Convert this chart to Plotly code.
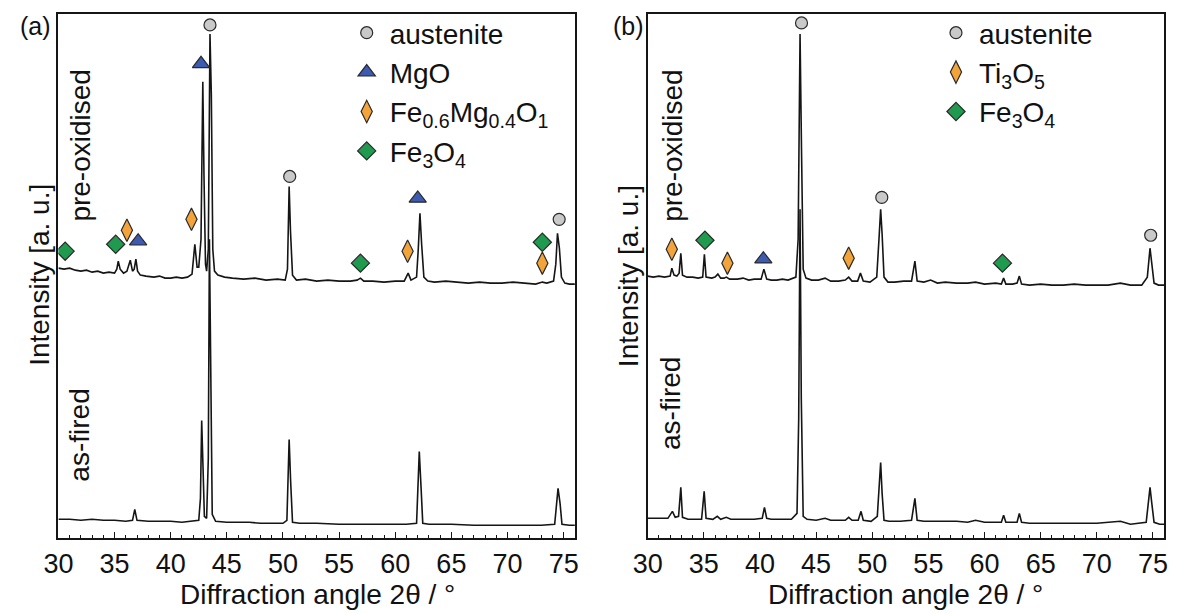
import plotly.graph_objects as go

# ---------------- data (2theta in degrees, intensity in a.u.) ----------------
# Panel (a)
a_pre_x = [30.0, 30.5, 31.0, 31.5, 32.0, 32.5, 33.0, 33.5, 34.0, 34.5, 35.0, 35.2, 35.33, 35.5, 35.8,
           36.1, 36.4, 36.6, 36.75, 36.9, 37.05, 37.3, 37.8, 38.5, 39.0, 39.5, 40.0, 40.5, 41.0, 41.5,
           41.9, 42.15, 42.35, 42.5, 42.7, 42.86, 42.97, 43.1, 43.2, 43.35, 43.5, 43.62, 43.75, 43.9,
           44.2, 44.8, 45.5, 46.5, 47.5, 48.5, 49.5, 50.2, 50.4, 50.55, 50.67, 50.85, 51.2, 52.0, 53.0,
           54.0, 55.0, 56.0, 56.6, 56.9, 57.2, 58.0, 59.0, 60.0, 60.8, 61.15, 61.4, 61.9, 62.05, 62.2,
           62.35, 62.55, 62.9, 63.5, 64.5, 65.5, 66.5, 67.5, 68.5, 69.5, 70.5, 71.5, 72.5, 73.1, 73.5,
           74.1, 74.3, 74.45, 74.62, 74.8, 75.1, 75.5, 76.0]
a_pre_y = [271, 270, 271, 269, 268, 269, 267, 268, 266, 267, 266, 270, 278, 270, 266,
           268, 279, 268, 270, 280, 268, 264, 263, 262, 263, 261, 261, 262, 261, 262,
           265, 295, 272, 272, 300, 458, 361, 275, 268, 290, 506, 445, 290, 268,
           264, 262, 261, 260, 261, 259, 260, 259, 270, 353, 308, 264, 259, 260, 258,
           259, 258, 258, 259, 261, 258, 258, 257, 258, 258, 266, 259, 262, 290, 326,
           295, 262, 258, 257, 258, 257, 256, 257, 256, 256, 257, 256, 255, 257, 256,
           258, 275, 306, 291, 262, 256, 255, 255]

a_fired_x = [30.0, 31.0, 32.0, 33.0, 34.0, 35.0, 36.0, 36.6, 36.8, 37.0, 38.0, 39.0, 40.0, 41.0, 42.0,
             42.5, 42.65, 42.76, 42.88, 43.0, 43.2, 43.35, 43.45, 43.57, 43.7, 44.0, 45.0, 46.0, 47.0,
             48.0, 49.0, 50.0, 50.35, 50.55, 50.68, 50.85, 51.5, 53.0, 55.0, 57.0, 59.0, 61.0, 61.9,
             62.14, 62.3, 62.45, 63.0, 65.0, 67.0, 69.0, 71.0, 73.0, 74.2, 74.5, 74.68, 74.85, 75.5, 76.0]
a_fired_y = [19, 19, 18, 19, 18, 18, 17, 18, 29, 18, 17, 17, 17, 16, 17,
             18, 40, 118, 71, 22, 20, 80, 300, 145, 24, 17, 16, 16, 16,
             15, 15, 15, 18, 99, 58, 16, 15, 15, 14, 14, 14, 14, 15,
             87, 51, 15, 14, 14, 13, 13, 13, 13, 14, 50, 35, 14, 13, 13]

# Panel (b)
b_pre_x = [30.0, 30.5, 31.0, 31.5, 32.0, 32.15, 32.35, 32.6, 32.8, 32.95, 33.1, 33.5, 34.0, 34.5, 34.9,
           35.05, 35.2, 35.7, 36.0, 36.25, 36.5, 36.8, 37.0, 37.3, 38.0, 38.5, 39.0, 39.5, 40.1, 40.35,
           40.6, 41.0, 41.5, 42.0, 42.5, 43.2, 43.4, 43.57, 43.7, 43.85, 44.1, 44.6, 45.2, 45.8, 46.3,
           47.0, 47.6, 47.9, 48.2, 48.7, 48.95, 49.2, 49.8, 50.4, 50.6, 50.75, 50.88, 51.05, 51.4, 52.0,
           52.8, 53.5, 53.8, 54.0, 54.6, 55.2, 55.8, 56.5, 57.5, 58.5, 59.2, 60.0, 61.0, 61.5, 61.7,
           61.9, 62.5, 62.9, 63.1, 63.3, 64.0, 65.0, 66.0, 67.0, 68.0, 69.0, 70.0, 71.0, 72.1, 73.0,
           74.0, 74.5, 74.74, 74.9, 75.1, 75.5, 76.0]
b_pre_y = [263, 262, 263, 262, 263, 271, 264, 263, 266, 286, 264, 262, 262, 261, 262,
           285, 262, 261, 262, 265, 261, 261, 262, 260, 260, 261, 259, 260, 260, 270,
           260, 259, 259, 260, 259, 262, 300, 506, 390, 270, 261, 259, 259, 261, 258,
           258, 259, 262, 258, 258, 266, 258, 257, 262, 300, 330, 305, 262, 257, 257,
           258, 258, 278, 258, 257, 259, 256, 257, 256, 256, 257, 255, 256, 255, 261,
           255, 255, 256, 263, 255, 254, 255, 254, 254, 255, 254, 254, 254, 256, 254,
           254, 262, 291, 276, 256, 254, 254]

b_fired_x = [30.0, 31.0, 31.8, 32.2, 32.45, 32.75, 32.95, 33.1, 33.6, 34.2, 34.8, 35.03, 35.2, 35.8,
             36.2, 36.5, 37.0, 37.4, 38.0, 38.8, 39.5, 40.2, 40.4, 40.6, 41.0, 42.0, 42.8, 43.3, 43.45,
             43.57, 43.68, 43.85, 44.2, 45.0, 45.8, 46.3, 47.0, 47.6, 47.9, 48.2, 48.75, 49.0, 49.2,
             49.9, 50.45, 50.75, 50.88, 51.05, 51.5, 52.5, 53.5, 53.8, 54.0, 54.6, 55.5, 56.5, 57.5,
             58.5, 59.2, 60.0, 61.0, 61.5, 61.7, 61.9, 62.9, 63.1, 63.3, 64.0, 66.0, 68.0, 70.0, 72.1,
             73.0, 74.4, 74.74, 74.9, 75.1, 75.6, 76.0]
b_fired_y = [20, 20, 20, 27, 21, 22, 51, 21, 19, 19, 19, 47, 20, 19,
             22, 19, 21, 19, 19, 19, 19, 20, 31, 20, 19, 19, 19, 25, 120,
             330, 141, 22, 19, 18, 20, 18, 18, 18, 21, 18, 18, 27, 18,
             17, 22, 76, 45, 18, 17, 17, 18, 40, 18, 17, 17, 17, 17,
             16, 18, 16, 16, 16, 23, 16, 16, 25, 16, 15, 15, 15, 15, 17,
             14, 16, 51, 35, 16, 14, 14]

# Phase markers (position, intensity)
a_aust_x, a_aust_y = [43.5, 50.6, 74.6], [515, 363, 320]
a_mgo_x, a_mgo_y = [37.1, 42.7, 62.0], [298, 476, 341]
a_femg_x, a_femg_y = [36.1, 41.85, 61.1, 73.1], [309, 320, 288, 276]
a_fe3o4_x, a_fe3o4_y = [30.6, 35.1, 56.9, 73.1], [288, 295, 276, 297]

b_aust_x, b_aust_y = [43.7, 50.85, 74.8], [517, 342, 304]
b_ti_x, b_ti_y = [32.15, 37.1, 47.9], [290, 276, 281]
b_fe3o4_x, b_fe3o4_y = [35.1, 61.6], [299, 276]
b_mgo_x, b_mgo_y = [40.3], [280]

x_ticks = [30, 35, 40, 45, 50, 55, 60, 65, 70, 75]
x_range = [30, 76]
y_range = [0, 526]

# ---------------- styles ----------------
OFF = 8                      # page body margin of the html page
W, H = 1178 - OFF, 614 - OFF
FONT = "Liberation Sans, Arial, sans-serif"
TXT = "#111111"
LINE = "#151515"
C_GRAY, C_BLUE, C_ORANGE, C_GREEN = "#c9c9c9", "#3d5bb0", "#f2a33a", "#1f9a4e"
OUT = dict(color="#2a2a2a", width=1.2)


def px(x):
    return (x - OFF) / W


def py(y):
    return 1 - (y - OFF) / H


fig = go.Figure()

for xs, ys, xa in [(a_pre_x, a_pre_y, "x"), (a_fired_x, a_fired_y, "x"),
                   (b_pre_x, b_pre_y, "x2"), (b_fired_x, b_fired_y, "x2")]:
    fig.add_trace(go.Scatter(x=xs, y=ys, mode="lines", xaxis=xa, yaxis="y" if xa == "x" else "y2",
                             line=dict(color=LINE, width=1.6), showlegend=False, hoverinfo="skip"))


def mk(xs, ys, name, sym, col, size, xa, legend, show=True):
    fig.add_trace(go.Scatter(x=xs, y=ys, mode="markers", name=name, xaxis=xa,
                             yaxis="y" if xa == "x" else "y2", legend=legend, showlegend=show,
                             marker=dict(symbol=sym, color=col, size=size, line=OUT)))


mk(a_aust_x, a_aust_y, "austenite", "circle", C_GRAY, 12, "x", "legend")
mk(a_mgo_x, a_mgo_y, "MgO", "triangle-up", C_BLUE, 15, "x", "legend")
mk(a_femg_x, a_femg_y, "Fe<sub>0.6</sub>Mg<sub>0.4</sub>O<sub>1</sub>", "diamond-tall", C_ORANGE, 16, "x", "legend")
mk(a_fe3o4_x, a_fe3o4_y, "Fe<sub>3</sub>O<sub>4</sub>", "diamond", C_GREEN, 14, "x", "legend")

mk(b_aust_x, b_aust_y, "austenite", "circle", C_GRAY, 12, "x2", "legend2")
mk(b_ti_x, b_ti_y, "Ti<sub>3</sub>O<sub>5</sub>", "diamond-tall", C_ORANGE, 16, "x2", "legend2")
mk(b_fe3o4_x, b_fe3o4_y, "Fe<sub>3</sub>O<sub>4</sub>", "diamond", C_GREEN, 14, "x2", "legend2")
mk(b_mgo_x, b_mgo_y, "MgO", "triangle-up", C_BLUE, 15, "x2", "legend2", show=False)

xa_common = dict(range=x_range, tickvals=x_ticks, ticks="inside", ticklen=6, tickwidth=1.3,
                 tickcolor=LINE, showline=True, linecolor=LINE, linewidth=1.8, mirror=True,
                 showgrid=False, zeroline=False, tickfont=dict(family=FONT, size=27, color=TXT),
                 minor=dict(dtick=1, ticks="inside", ticklen=3, tickcolor=LINE, tickwidth=1),
                 fixedrange=True)
ya_common = dict(range=y_range, showticklabels=False, ticks="", showline=True, linecolor=LINE,
                 linewidth=1.8, mirror=True, showgrid=False, zeroline=False, fixedrange=True,
                 domain=[py(538), py(12)])

leg_common = dict(font=dict(family=FONT, size=28, color=TXT), bgcolor="rgba(0,0,0,0)",
                  borderwidth=0, itemsizing="trace", yanchor="top", xanchor="left",
                  tracegroupgap=0, itemwidth=36)

fig.update_layout(
    width=W, height=H, autosize=False,
    margin=dict(l=0, r=0, t=0, b=0),
    paper_bgcolor="white", plot_bgcolor="white",
    xaxis=dict(domain=[px(44), px(569)], anchor="y", **xa_common),
    xaxis2=dict(domain=[px(643), px(1168)], anchor="y2", **xa_common),
    yaxis=dict(anchor="x", **ya_common),
    yaxis2=dict(anchor="x2", **ya_common),
    legend=dict(x=px(334), y=py(6), **leg_common),
    legend2=dict(x=px(933), y=py(6), **leg_common),
    showlegend=True,
)

ann = []


def txt(x, y, s, size=28, angle=0):
    ann.append(dict(x=px(x), y=py(y), xref="paper", yref="paper", text=s, showarrow=False,
                    textangle=angle, font=dict(family=FONT, size=size, color=TXT),
                    xanchor="center", yanchor="middle"))


txt(21, 24, "(a)", 25)
txt(624, 24, "(b)", 25)
txt(24, 274, "Intensity [a. u.]", 28, -90)
txt(623, 275, "Intensity [a. u.]", 28, -90)
txt(66, 144, "pre-oxidised", 28, -90)
txt(66, 435, "as-fired", 28, -90)
txt(668, 144, "pre-oxidised", 28, -90)
txt(666, 403, "as-fired", 28, -90)
txt(307, 594, "Diffraction angle 2θ / °", 28)
txt(905, 594, "Diffraction angle 2θ / °", 28)
fig.update_layout(annotations=ann)

fig.write_html("out.html")
